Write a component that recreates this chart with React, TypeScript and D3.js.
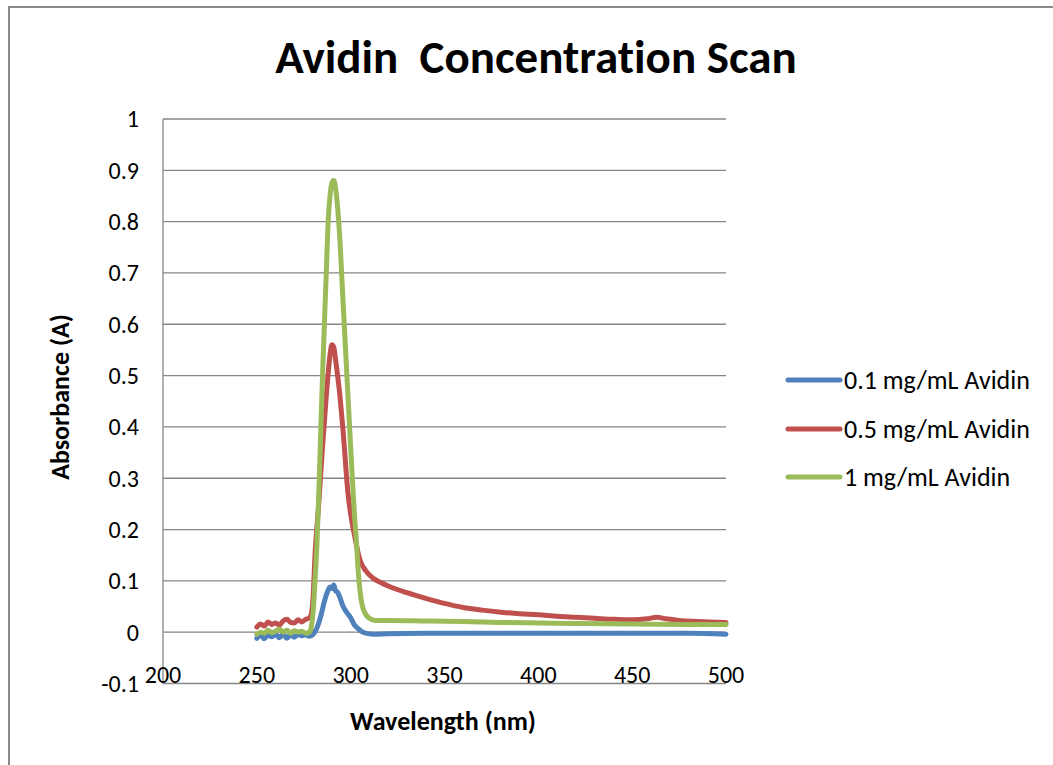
import * as d3 from 'd3';

// wavelength (nm) / absorbance
const blueNm = [250, 252, 254, 256, 258, 260, 262, 264, 266, 268, 270, 272, 274, 276, 278, 280, 282, 284, 286, 288, 289, 290, 291, 292, 293, 294, 296, 298, 300, 302, 304, 306, 308, 312, 320, 340, 360, 400, 450, 480, 500];
const blueAbs = [-0.012, -0.006, -0.013, -0.005, -0.009, -0.004, -0.011, -0.003, -0.012, -0.005, -0.01, -0.004, -0.007, -0.005, -0.008, -0.004, 0.008, 0.03, 0.06, 0.082, 0.088, 0.085, 0.092, 0.08, 0.078, 0.07, 0.05, 0.038, 0.028, 0.014, 0.007, 0.001, -0.002, -0.004, -0.003, -0.002, -0.002, -0.002, -0.002, -0.002, -0.004];

const redNm = [250, 252, 254, 256, 258, 260, 262, 264, 266, 268, 270, 272, 274, 276, 278, 279, 280, 281, 283, 285, 287, 289, 290, 291, 292, 294, 296, 298.6, 300, 302, 305, 308, 312, 316, 320, 330, 340, 350, 360, 370, 380, 390, 400, 410, 420, 430, 440, 450, 458, 463, 468, 475, 485, 500];
const redAbs = [0.01, 0.016, 0.012, 0.02, 0.015, 0.018, 0.014, 0.022, 0.025, 0.019, 0.018, 0.024, 0.02, 0.025, 0.028, 0.035, 0.07, 0.15, 0.25, 0.36, 0.46, 0.54, 0.56, 0.555, 0.53, 0.47, 0.39, 0.27, 0.23, 0.19, 0.14, 0.12, 0.105, 0.097, 0.09, 0.077, 0.066, 0.056, 0.048, 0.043, 0.039, 0.036, 0.034, 0.031, 0.029, 0.027, 0.025, 0.024, 0.026, 0.029, 0.026, 0.023, 0.021, 0.019];

const greenNm = [250, 252, 254, 256, 258, 260, 262, 264, 266, 268, 270, 272, 274, 276, 278, 279, 280, 281, 282, 283, 285, 287, 288, 289, 290, 291, 292, 293, 294, 296, 298, 300, 302, 303, 304, 305, 306, 308, 310, 313, 320, 340, 360, 380, 400, 420, 450, 480, 500];
const greenAbs = [-0.004, 0.0, -0.002, 0.004, -0.001, 0.002, 0.006, 0.0, 0.004, -0.002, 0.003, 0.0, 0.002, -0.002, 0.0, 0.01, 0.04, 0.1, 0.17, 0.27, 0.5, 0.7, 0.8, 0.85, 0.875, 0.88, 0.865, 0.83, 0.78, 0.64, 0.5, 0.36, 0.23, 0.18, 0.12, 0.08, 0.055, 0.035, 0.027, 0.023, 0.023, 0.022, 0.021, 0.019, 0.018, 0.017, 0.016, 0.015, 0.015];

const seriesNames = ['0.1 mg/mL Avidin', '0.5 mg/mL Avidin', '1 mg/mL Avidin'];
const seriesColors = ['#4F81BD', '#C0504D', '#9BBB59'];

const xTicks = [200, 250, 300, 350, 400, 450, 500];
const yTicks = [-0.1, 0, 0.1, 0.2, 0.3, 0.4, 0.5, 0.6, 0.7, 0.8, 0.9, 1];

const font = "Carlito, 'Open Sans', 'Noto Sans', sans-serif";

export default function App() {
  const width = 1053;
  const height = 765;
  const plot = { left: 163, right: 726, top: 119, bottom: 683.5 };

  const x = d3.scaleLinear().domain([200, 500]).range([plot.left, plot.right]);
  const y = d3.scaleLinear().domain([-0.1, 1]).range([plot.bottom, plot.top]);

  const series = [
    { nm: blueNm, abs: blueAbs },
    { nm: redNm, abs: redAbs },
    { nm: greenNm, abs: greenAbs },
  ].map((s, i) => ({
    name: seriesNames[i],
    color: seriesColors[i],
    points: s.nm.map((w, j) => [w, s.abs[j]] as [number, number]),
  }));

  const line = d3
    .line<[number, number]>()
    .x((d) => x(d[0]))
    .y((d) => y(d[1]))
    .curve(d3.curveMonotoneX);

  const legendY = [380, 429, 477];
  const fmt = (t: number) => d3.format('.1~f')(t).replace('\u2212', '-');

  return (
    <svg
      width={width}
      height={height}
      style={{ position: 'absolute', left: 0, top: 0, background: '#fff', fontVariantLigatures: 'none' }}
    >
      {/* chart frame */}
      <rect x={9} y={7} width={1060} height={770} fill="#fff" stroke="#898989" strokeWidth={2} />

      <text
        x={536}
        y={73}
        textAnchor="middle"
        fontFamily={font}
        fontWeight="bold"
        fontSize={47}
        fill="#000"
        style={{ whiteSpace: 'pre' }}
      >
        {'Avidin  Concentration Scan'}
      </text>

      {/* grid lines */}
      {yTicks.slice(1).map((t) => (
        <line key={t} x1={plot.left} x2={plot.right} y1={y(t)} y2={y(t)} stroke="#868686" strokeWidth={1.3} />
      ))}
      {/* axes */}
      <line x1={plot.left} x2={plot.left} y1={plot.top} y2={plot.bottom} stroke="#868686" strokeWidth={1.3} />
      <line x1={plot.left} x2={plot.right} y1={plot.bottom} y2={plot.bottom} stroke="#868686" strokeWidth={1.3} />

      {/* y tick labels */}
      {yTicks.map((t) => (
        <text key={t} x={139} y={y(t)} dy="0.35em" textAnchor="end" fontFamily={font} fontSize={24} fill="#000">
          {fmt(t)}
        </text>
      ))}

      {/* x tick labels */}
      {xTicks.map((t) => (
        <text key={t} x={x(t)} y={683} textAnchor="middle" fontFamily={font} fontSize={24} fill="#000">
          {t}
        </text>
      ))}

      {/* series */}
      {series.map((s) => (
        <path
          key={s.name}
          d={line(s.points) ?? ''}
          fill="none"
          stroke={s.color}
          strokeWidth={5}
          strokeLinejoin="round"
          strokeLinecap="round"
        />
      ))}

      {/* axis titles */}
      <text x={443} y={730} textAnchor="middle" fontFamily={font} fontWeight="bold" fontSize={26} fill="#000">
        Wavelength (nm)
      </text>
      <text
        transform="translate(69,397) rotate(-90)"
        textAnchor="middle"
        fontFamily={font}
        fontWeight="bold"
        fontSize={26}
        fill="#000"
      >
        Absorbance (A)
      </text>

      {/* legend */}
      {series.map((s, i) => (
        <g key={s.name}>
          <line
            x1={788}
            x2={840}
            y1={legendY[i]}
            y2={legendY[i]}
            stroke={s.color}
            strokeWidth={5}
            strokeLinecap="round"
          />
          <text x={844} y={legendY[i]} dy="0.35em" fontFamily={font} fontSize={26} fill="#000">
            {s.name}
          </text>
        </g>
      ))}
    </svg>
  );
}
